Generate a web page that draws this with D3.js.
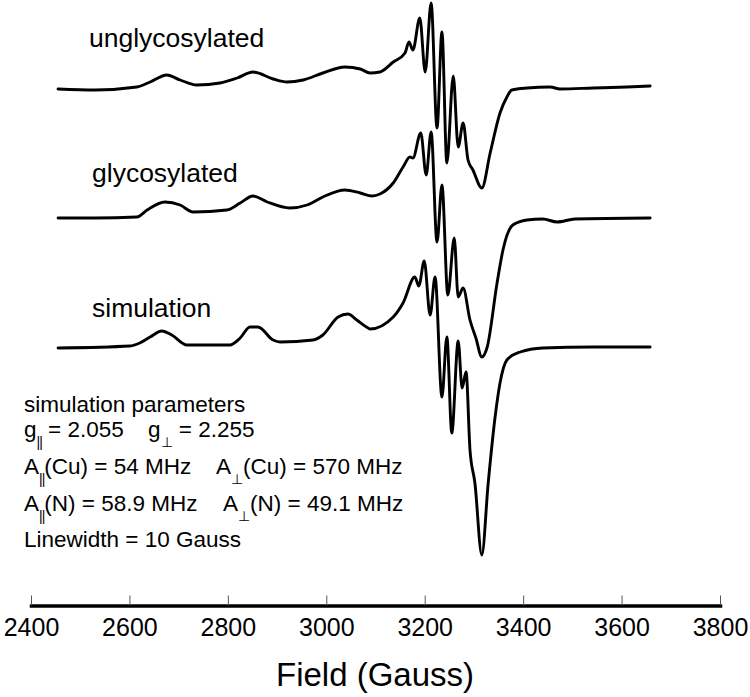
<!DOCTYPE html>
<html>
<head>
<meta charset="utf-8">
<script src="https://cdn.jsdelivr.net/npm/d3@7"></script>
<style>
  html, body { margin: 0; padding: 0; background: #fff; }
  svg { display: block; font-family: "Liberation Sans", Arial, Helvetica, sans-serif; }
</style>
</head>
<body>
<svg id="chart" width="750" height="697"></svg>
<script>
// ---- data (field in Gauss, intensity in arbitrary units) ----
const fieldTicks = [2400, 2600, 2800, 3000, 3200, 3400, 3600, 3800];
const seriesNames = ["unglycosylated", "glycosylated", "simulation"];
const seriesOffsets = [0, -129, -259];

const unglycosylated = [
  [2455,0],[2530,-1],[2615,2],[2642,7],[2676,14],[2703,9],[2737,4],[2784,6],[2819,11],
  [2851,17],[2892,10],[2920,7],[2953,9],[2993,16],[3038,22],[3069,20],[3089,16],[3109,17],
  [3136,27],[3160,36],[3168,47],[3176,39],[3190,71],[3201,17],[3213,86],[3225,-39],
  [3235,57],[3245,-74],[3258,13],[3268,-58],[3278,-34],[3288,-71],[3298,-81],[3316,-99],
  [3333,-64],[3353,-24],[3367,-8],[3377,-1],[3408,1],[3455,2],[3475,0],[3542,1],[3611,2],[3658,3]
];
const glycosylated = [
  [2455,0],[2530,0],[2615,1],[2636,8],[2672,16],[2703,13],[2729,6],[2798,8],[2825,15],
  [2851,22],[2880,16],[2926,10],[2961,13],[2993,21],[3038,28],[3069,25],[3093,22],[3109,24],
  [3136,35],[3156,51],[3170,61],[3176,60],[3192,85],[3203,43],[3213,86],[3225,-24],
  [3235,33],[3247,-77],[3260,-20],[3268,-79],[3278,-70],[3292,-102],[3304,-120],[3316,-139],
  [3327,-129],[3347,-65],[3359,-32],[3379,-7],[3408,-2],[3440,-1],[3469,-4],[3505,-1],[3658,0]
];
const simulation = [
  [2455,0],[2601,2],[2621,5],[2642,11],[2666,17],[2686,13],[2717,3],[2804,3],[2825,10],
  [2845,21],[2861,21],[2892,8],[2906,6],[2973,8],[2993,13],[3024,31],[3044,34],[3062,28],
  [3085,20],[3089,19],[3136,31],[3156,45],[3180,71],[3188,62],[3199,87],[3211,33],[3221,71],
  [3235,-49],[3245,11],[3255,-85],[3268,7],[3276,-40],[3284,-24],[3292,-102],[3302,-135],
  [3316,-207],[3329,-135],[3343,-69],[3353,-35],[3367,-12],[3394,-4],[3440,0],[3542,1],[3658,1]
];
const allSeries = [unglycosylated, glycosylated, simulation];

const paramLines = [
  [["simulation parameters", null]],
  [["g", "||", " = 2.055"], ["g", "\u22A5", " = 2.255"]],
  [["A", "||", "(Cu) = 54 MHz"], ["A", "\u22A5", "(Cu) = 570 MHz"]],
  [["A", "||", "(N) = 58.9 MHz"], ["A", "\u22A5", "(N) = 49.1 MHz"]],
  [["Linewidth = 10 Gauss", null]]
];
const xLabel = "Field (Gauss)";

// ---- layout ----
const svg = d3.select("#chart");
const x = d3.scaleLinear().domain([2400, 3800]).range([31, 720]);
const y = d3.scaleLinear().domain([0, 100]).range([89, -11]);
const axisY = 605.5;

const line = d3.line()
  .x(d => x(d[0]))
  .y(d => y(d[1]))
  .curve(d3.curveMonotoneX);

allSeries.forEach((s, i) => {
  const off = seriesOffsets[i];
  svg.append("path")
    .datum(s.map(d => [d[0], d[1] + off]))
    .attr("d", line)
    .attr("fill", "none")
    .attr("stroke", "#000")
    .attr("stroke-width", 2.9)
    .attr("stroke-linejoin", "round")
    .attr("stroke-linecap", "round");
});

// series labels
const labelPos = [[89, 47], [92, 182], [92, 317]];
seriesNames.forEach((n, i) => {
  svg.append("text")
    .attr("x", labelPos[i][0]).attr("y", labelPos[i][1])
    .attr("font-size", 26.5).attr("fill", "#000")
    .text(n);
});

// axis
const axis = d3.axisBottom(x)
  .tickValues(fieldTicks)
  .tickFormat(d3.format("d"))
  .tickSizeInner(-10)
  .tickSizeOuter(0)
  .tickPadding(13);
const gAxis = svg.append("g").attr("transform", `translate(0,${axisY})`).call(axis);
gAxis.select(".domain").attr("stroke", "#000").attr("stroke-width", 3.5).attr("stroke-linecap", "square");
gAxis.selectAll(".tick line").attr("stroke", "#555").attr("stroke-width", 1);
gAxis.selectAll(".tick text").attr("font-size", 25).attr("fill", "#000")
  .attr("font-family", "'Liberation Sans', Arial, sans-serif");

svg.append("text")
  .attr("x", 375).attr("y", 686)
  .attr("text-anchor", "middle")
  .attr("font-size", 33).attr("fill", "#000")
  .text(xLabel);

// parameter block
const paramBaselines = [412, 437, 474, 510.5, 546.5];
const secondX = [null, 148, 216, 223, null];
paramLines.forEach((ln, i) => {
  const t = svg.append("text")
    .attr("x", 24).attr("y", paramBaselines[i])
    .attr("font-size", 22.5).attr("fill", "#000")
    .attr("xml:space", "preserve");
  ln.forEach((part, j) => {
    const [main, sub, rest] = part;
    const first = t.append("tspan").text(main);
    if (j === 1) first.attr("x", secondX[i]);
    if (sub) {
      t.append("tspan").attr("dy", 10).attr("font-size", 14)
        .attr("letter-spacing", sub === "||" ? -1 : 0)
        .text(sub);
      t.append("tspan").attr("dy", -10).text(rest);
    }
  });
});
</script>
</body>
</html>
